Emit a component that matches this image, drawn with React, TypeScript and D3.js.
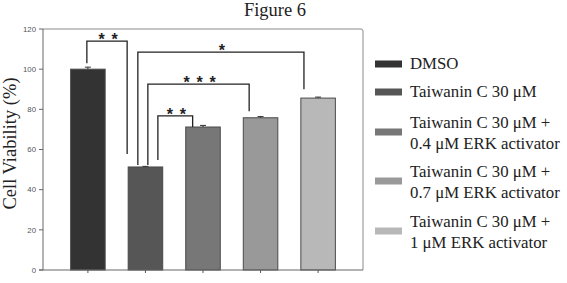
import React from 'react';
import * as d3 from 'd3';

// bar data
const groups = ['DMSO', 'TC30', 'TC30_E04', 'TC30_E07', 'TC30_E1'];
const viability = [100, 51.3, 71.2, 75.8, 85.6];
const errors = [1.0, 0.3, 0.8, 0.6, 0.5];
const barColors = ['#333333', '#565656', '#777777', '#999999', '#b8b8b8'];
const legendLabels = [
  ['DMSO'],
  ['Taiwanin C 30 μM'],
  ['Taiwanin C 30 μM +', '0.4 μM ERK activator'],
  ['Taiwanin C 30 μM +', '0.7 μM ERK activator'],
  ['Taiwanin C 30 μM +', '1 μM ERK activator'],
];
const yTicks = [0, 20, 40, 60, 80, 100, 120];

// significance brackets: bar indexes, leg offsets (fraction of bar width), heights in %
const comparisons = [
  { a: 0, b: 1, fa: 0.47, fb: -0.03, top: 114, aLow: 103, bLow: 57.8, label: '**' },
  { a: 1, b: 4, fa: 0.28, fb: 0.09, top: 108.5, aLow: 52.3, bLow: 90, label: '*' },
  { a: 1, b: 3, fa: 0.57, fb: 0.17, top: 92.6, aLow: 52.3, bLow: 79, label: '***' },
  { a: 1, b: 2, fa: 0.86, fb: 0.2, top: 76.7, aLow: 54.8, bLow: 71.2, label: '**' },
];

const W = 567;
const H = 283;
const plot = { left: 43, right: 363, top: 29, bottom: 270 };

const App: React.FC = () => {
  const x = d3.scaleBand<string>()
    .domain(groups)
    .range([plot.left, plot.right])
    .paddingInner(0.4)
    .paddingOuter(0.48);
  const y = d3.scaleLinear().domain([0, 120]).range([plot.bottom, plot.top]);
  const bw = x.bandwidth();

  const legendY = d3.scaleOrdinal<number, number>()
    .domain([0, 1, 2, 3, 4])
    .range([64, 92, 132, 181, 231]);

  return (
    <svg width={W} height={H} style={{ position: 'absolute', left: 0, top: 0, background: '#fff' }}>
      <text x={275} y={16} textAnchor="middle" fontFamily="Liberation Serif" fontSize={18.5} fill="#222">
        Figure 6
      </text>

      {/* frame */}
      <path
        d={`M${plot.left},${plot.top}H${plot.right - 2}Q${plot.right},${plot.top} ${plot.right},${plot.top + 2}V${plot.bottom}`}
        fill="none"
        stroke="#8a8a8a"
        strokeWidth={1}
      />

      {/* bars */}
      {groups.map((g, i) => (
        <g key={g}>
          <rect
            x={x(g)!}
            y={y(viability[i])}
            width={bw}
            height={y(0) - y(viability[i])}
            fill={barColors[i]}
            stroke="#4a4a4a"
            strokeWidth={1}
          />
          <line
            x1={x(g)! + bw / 2}
            x2={x(g)! + bw / 2}
            y1={y(viability[i])}
            y2={y(viability[i] + errors[i])}
            stroke="#333"
          />
          <line
            x1={x(g)! + bw / 2 - 3}
            x2={x(g)! + bw / 2 + 3}
            y1={y(viability[i] + errors[i])}
            y2={y(viability[i] + errors[i])}
            stroke="#333"
          />
          <line
            x1={x(g)! + bw / 2}
            x2={x(g)! + bw / 2}
            y1={plot.bottom}
            y2={plot.bottom + 3}
            stroke="#555"
          />
        </g>
      ))}

      {/* axes */}
      <line x1={plot.left} x2={plot.left} y1={plot.top} y2={plot.bottom} stroke="#666" />
      <line x1={plot.left - 4} x2={plot.right} y1={plot.bottom} y2={plot.bottom} stroke="#666" />
      {yTicks.map((t) => (
        <g key={t}>
          <line x1={plot.left - 4} x2={plot.left} y1={y(t)} y2={y(t)} stroke="#666" />
          <text
            x={plot.left - 7}
            y={y(t) + 2.8}
            textAnchor="end"
            fontFamily="Liberation Sans"
            fontSize={7.8}
            fill="#555"
          >
            {t}
          </text>
        </g>
      ))}
      <text
        transform={`translate(16,143.5) rotate(-90)`}
        textAnchor="middle"
        fontFamily="Liberation Serif"
        fontSize={18.5}
        fill="#222"
      >
        Cell Viability (%)
      </text>

      {/* significance brackets */}
      {comparisons.map((c, k) => {
        const xa = x(groups[c.a])! + c.fa * bw;
        const xb = x(groups[c.b])! + c.fb * bw;
        const stars = c.label.split('');
        const cx = (xa + xb) / 2 + 1;
        const gap = 13;
        return (
          <g key={k}>
            <path
              d={`M${xa},${y(c.aLow)}V${y(c.top)}H${xb}V${y(c.bLow)}`}
              fill="none"
              stroke="#222"
              strokeWidth={1.3}
            />
            {stars.map((s, j) => (
              <text
                key={j}
                x={cx + (j - (stars.length - 1) / 2) * gap}
                y={y(c.top) + 4}
                textAnchor="middle"
                fontFamily="Liberation Sans"
                fontWeight="bold"
                fontSize={16}
                fill="#222"
              >
                {s}
              </text>
            ))}
          </g>
        );
      })}

      {/* legend */}
      {legendLabels.map((lines, i) => {
        const cy = legendY(i);
        const firstBase = lines.length === 1 ? cy + 5 : cy - 4;
        return (
          <g key={i}>
            <rect x={375} y={cy - 3.5} width={27} height={7} fill={barColors[i]} />
            {lines.map((l, j) => (
              <text
                key={j}
                x={410}
                y={firstBase + j * 20.5}
                fontFamily="Liberation Serif"
                fontSize={16.8}
                fill="#222"
              >
                {l}
              </text>
            ))}
          </g>
        );
      })}
    </svg>
  );
};

export default App;
